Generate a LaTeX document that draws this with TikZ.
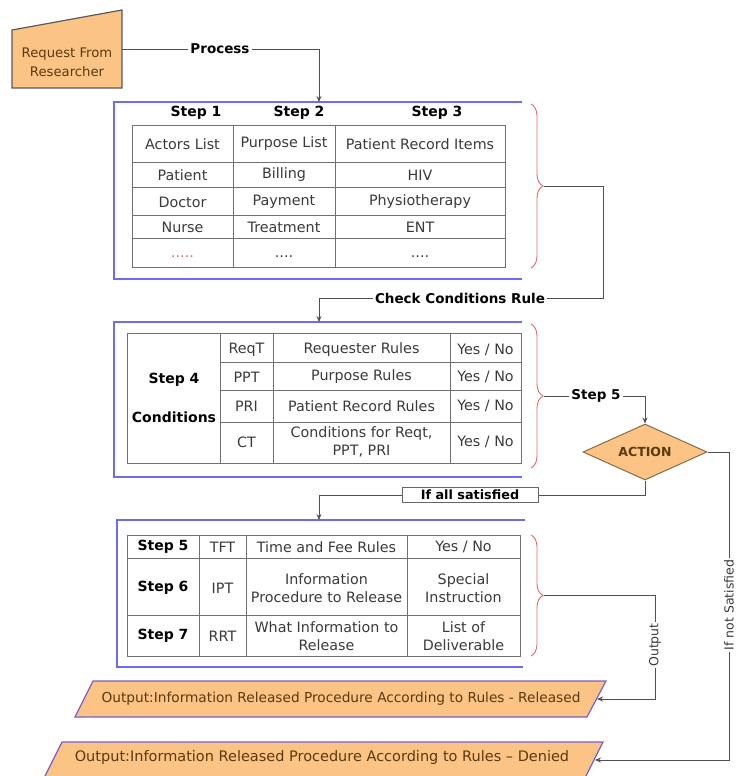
\documentclass[tikz,border=0pt]{standalone}
\usepackage{fontspec}
\setmainfont{DejaVu Sans}
\usetikzlibrary{shapes.geometric,decorations.pathreplacing,arrows.meta}
\definecolor{orangefill}{HTML}{FBC384}
\definecolor{brownt}{HTML}{5A3A10}
\definecolor{framec}{HTML}{6B6BF5}
\definecolor{bracec}{HTML}{E06A6A}
\definecolor{gridc}{HTML}{707070}
\definecolor{tabt}{HTML}{3A3A3A}
\definecolor{connc}{HTML}{505050}
\definecolor{parac}{HTML}{7B5FCF}
\begin{document}
\begin{tikzpicture}[x=1pt,y=-1pt,
  conn/.style={draw=connc, line width=0.9pt},
  arr/.style={conn, -{Stealth[length=6pt,width=5pt]}},
  frame/.style={draw=framec, line width=2.4pt},
  tline/.style={draw=gridc, line width=1pt},
  cell/.style={font=\fontsize{14.3}{18.5}\selectfont, text=tabt, align=center, inner sep=0pt},
  hdr/.style={font=\bfseries\fontsize{14}{16}\selectfont, text=black, align=center, inner sep=0pt},
  lbl/.style={font=\bfseries\fontsize{13.5}{15}\selectfont, fill=white, inner sep=2pt, text=black},
  bracestyle/.style={draw=bracec, line width=0.9pt, decorate, decoration={brace, amplitude=12pt}},
  shapefill/.style={fill=orangefill, draw=parac, line width=1.2pt},
  outtext/.style={text=brownt, inner sep=0pt},
]
\useasboundingbox (0,0) rectangle (738,776);

% Request from researcher
\draw[fill=orangefill, draw=black!65, line width=1.2pt] (12,30) -- (122,10) -- (122,88) -- (12,88) -- cycle;
\node (req) [minimum width=110pt, minimum height=78pt, inner sep=0pt] at (67,49) {};
\node (reqtxt) [font=\fontsize{13.2}{19}\selectfont, text=brownt, align=center] at (67,62) {Request From\\Researcher};

% frames
\draw[frame] (522,102) -- (114,102) -- (114,279) -- (522,279);
\draw[frame] (522,322) -- (114,322) -- (114,477) -- (522,477);
\draw[frame] (525,520) -- (117,520) -- (117,667) -- (523,667);
\coordinate (f1in) at (319,102);
\coordinate (f2in) at (319,322);
\coordinate (f3in) at (319,520);

% braces
\draw[bracestyle] (531,104) -- (531,268);
\draw[bracestyle] (531,324) -- (531,468);
\draw[bracestyle] (531,535) -- (531,656);
\coordinate (br1) at (544,186);
\coordinate (br2) at (544,396);
\coordinate (br3) at (544,595.5);

% Table 1
\node[hdr] (s1) at (196,113) {Step 1};
\node[hdr] (s2) at (299,113) {Step 2};
\node[hdr] (s3) at (437,113) {Step 3};
\draw[tline] (132,125) rectangle (505,267);
\foreach \yy in {162,187,215,238} \draw[tline] (132,\yy) -- (505,\yy);
\foreach \xx in {233,335} \draw[tline] (\xx,125) -- (\xx,267);
\node[cell] (t1a1) at (182.5,144) {Actors List};
\node[cell] (t1b1) at (284,144) {Purpose List};
\node[cell] (t1c1) at (420,144) {Patient Record Items};
\node[cell] (t1a2) at (182.5,175) {Patient};
\node[cell] (t1b2) at (284,175) {Billing};
\node[cell] (t1c2) at (420,175) {HIV};
\node[cell] (t1a3) at (182.5,202) {Doctor};
\node[cell] (t1b3) at (284,202) {Payment};
\node[cell] (t1c3) at (420,202) {Physiotherapy};
\node[cell] (t1a4) at (182.5,227) {Nurse};
\node[cell] (t1b4) at (284,227) {Treatment};
\node[cell] (t1c4) at (420,227) {ENT};
\node[cell, text=bracec] (t1a5) at (182.5,257) {.....};
\node[cell] (t1b5) at (284,257) {....};
\node[cell] (t1c5) at (420,257) {....};

% Table 2
\draw[tline] (127,333) rectangle (521,463);
\foreach \yy in {362,390,422} \draw[tline] (220,\yy) -- (521,\yy);
\foreach \xx in {220,273,450} \draw[tline] (\xx,333) -- (\xx,463);
\node[hdr] (s4) at (174,380) {Step 4};
\node[hdr] (cond) at (174,417) {Conditions};
\node[cell] (t2a1) at (246.5,350) {ReqT};
\node[cell] (t2b1) at (361.5,350) {Requester Rules};
\node[cell] (t2c1) at (485.5,350) {Yes / No};
\node[cell] (t2a2) at (246.5,377) {PPT};
\node[cell] (t2b2) at (361.5,377) {Purpose Rules};
\node[cell] (t2c2) at (485.5,377) {Yes / No};
\node[cell] (t2a3) at (246.5,406) {PRI};
\node[cell] (t2b3) at (361.5,406) {Patient Record Rules};
\node[cell] (t2c3) at (485.5,406) {Yes / No};
\node[cell] (t2a4) at (246.5,442) {CT};
\node[cell] (t2b4) at (361.5,442) {Conditions for Reqt,\\PPT, PRI};
\node[cell] (t2c4) at (485.5,442) {Yes / No};

% Table 3
\draw[tline] (127,535) rectangle (520,656);
\foreach \yy in {558,615} \draw[tline] (127,\yy) -- (520,\yy);
\foreach \xx in {199,246,407} \draw[tline] (\xx,535) -- (\xx,656);
\node[hdr] (s5) at (163,547) {Step 5};
\node[hdr] (s6) at (163,588) {Step 6};
\node[hdr] (s7) at (163,636) {Step 7};
\node[cell] (t3a1) at (222.5,547) {TFT};
\node[cell] (t3b1) at (326.5,547) {Time and Fee Rules};
\node[cell] (t3c1) at (463.5,547) {Yes / No};
\node[cell] (t3a2) at (222.5,588) {IPT};
\node[cell] (t3b2) at (326.5,588) {Information\\Procedure to Release};
\node[cell] (t3c2) at (463.5,588) {Special\\Instruction};
\node[cell] (t3a3) at (222.5,636) {RRT};
\node[cell] (t3b3) at (326.5,636) {What Information to\\Release};
\node[cell] (t3c3) at (463.5,636) {List of\\Deliverable};

% Action diamond
\node[diamond, aspect=2.2, minimum width=124pt, minimum height=56pt, inner sep=0pt,
      fill=orangefill, draw=orangefill!55!black, line width=1pt,
      font=\bfseries\fontsize{12.5}{14}\selectfont, text=brownt] (act) at (645,452) {ACTION};

% Outputs
\draw[shapefill] (93,681) -- (606,681) -- (587,717) -- (75,717) -- cycle;
\node[outtext, font=\fontsize{13.7}{15}\selectfont] (out1) at (341,699) {Output:Information Released Procedure According to Rules - Released};
\coordinate (o1e) at (597,699);
\draw[shapefill] (62,742) -- (603,742) -- (585,778) -- (44,778) -- cycle;
\node[outtext, font=\fontsize{14.5}{16}\selectfont] (out2) at (322,757) {Output:Information Released Procedure According to Rules -- Denied};
\coordinate (o2e) at (595,760);

% connectors
\draw[arr] (req.east) -| (f1in);
\node[lbl] (lproc) at (220,49) {Process};

\draw[arr] (br1) -- (603,186) -- (603,298) -- (319,298) -- (f2in);
\node[lbl] (lcheck) at (460,298) {Check Conditions Rule};

\draw[arr] (br2) -| (act.north);
\node[lbl] (lstep5) at (596,396) {Step 5};

\draw[arr] (act.south) -- (645,495) -| (f3in);
\node[draw=black!60, line width=0.8pt, fill=white, inner sep=0pt, minimum width=136pt, minimum height=15pt,
      font=\bfseries\fontsize{12.8}{14}\selectfont] (lsat) at (470,495) {If all satisfied};

\draw[arr] (br3) -- (655,595.5) -- (655,699) -- (o1e);
\node[fill=white, inner sep=1.5pt, rotate=90, font=\fontsize{12.5}{14}\selectfont, text=tabt] (lout) at (655,645) {Output};

\draw[arr] (act.east) -- (729,452) -- (729,760) -- (o2e);
\node[fill=white, inner sep=1.5pt, rotate=90, font=\fontsize{12.5}{14}\selectfont, text=tabt] (lnot) at (729,605) {If not Satisfied};
\end{tikzpicture}
\end{document}
